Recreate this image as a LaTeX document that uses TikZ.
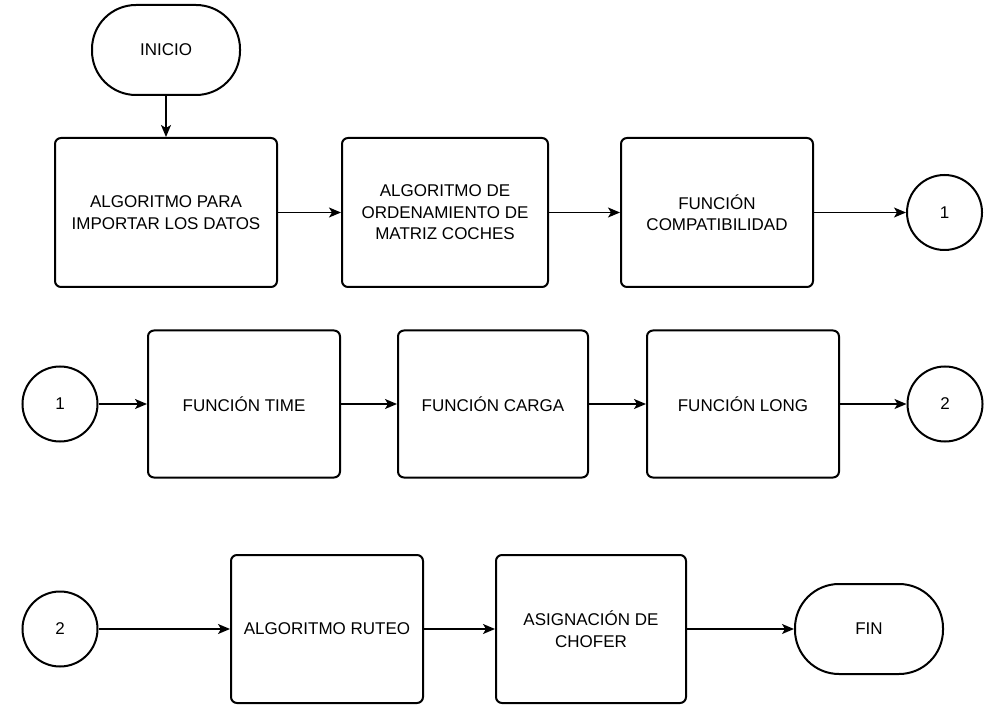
\documentclass[tikz,border=0pt]{standalone}
\usepackage{fontspec}
\setmainfont{Liberation Sans}
\usetikzlibrary{arrows.meta}
\begin{document}
\begin{tikzpicture}[x=1pt,y=-1pt,
  procbox/.style={draw=black, line width=2pt, rounded corners=6pt, fill=white,
    inner sep=0pt, align=center, font=\fontsize{17}{21.5}\selectfont},
  termbox/.style={draw=black, line width=2pt, rounded corners=44pt, fill=white,
    minimum width=148pt, minimum height=90pt, inner sep=0pt,
    font=\fontsize{17}{21.5}\selectfont},
  conn/.style={draw=black, line width=2pt, circle, minimum size=75pt, inner sep=0pt,
    font=\fontsize{17}{21.5}\selectfont},
  flow/.style={-{Stealth[length=12pt,width=10pt,inset=3pt]}, line width=1.5pt, black}]
\useasboundingbox (0,0) rectangle (1006,708);

% row 1
\node[termbox] (inicio) at (166,50) {INICIO};
\node[procbox, minimum width=222pt, minimum height=149pt] (b1) at (166,212.5)
  {ALGORITMO PARA\\IMPORTAR LOS DATOS};
\node[procbox, minimum width=206pt, minimum height=149pt] (b2) at (445,212.5)
  {ALGORITMO DE\\ORDENAMIENTO DE\\MATRIZ COCHES};
\node[procbox, minimum width=192pt, minimum height=149pt] (b3) at (717,212.5)
  {FUNCIÓN\\COMPATIBILIDAD};
\node[conn] (c1) at (944.5,212.5) {1};

% row 2
\node[conn] (c1b) at (60,404) {1};
\node[procbox, minimum width=192pt, minimum height=147pt] (t) at (244,404) {FUNCIÓN TIME};
\node[procbox, minimum width=190pt, minimum height=147pt] (ca) at (493,404) {FUNCIÓN CARGA};
\node[procbox, minimum width=192pt, minimum height=147pt] (lo) at (743,404) {FUNCIÓN LONG};
\node[conn] (c2) at (945,404) {2};

% row 3
\node[conn] (c2b) at (60,629) {2};
\node[procbox, minimum width=192pt, minimum height=148pt] (ru) at (327,629) {ALGORITMO RUTEO};
\node[procbox, minimum width=190pt, minimum height=148pt] (as) at (591,629)
  {ASIGNACIÓN DE\\CHOFER};
\node[termbox] (fin) at (869,629) {FIN};

% connectors
\draw[flow] (inicio) -- (b1);
\draw[flow] (b1) -- (b2);
\draw[flow] (b2) -- (b3);
\draw[flow] (b3) -- (c1);
\draw[flow] (c1b) -- (t);
\draw[flow] (t) -- (ca);
\draw[flow] (ca) -- (lo);
\draw[flow] (lo) -- (c2);
\draw[flow] (c2b) -- (ru);
\draw[flow] (ru) -- (as);
\draw[flow] (as) -- (fin);
\end{tikzpicture}
\end{document}
